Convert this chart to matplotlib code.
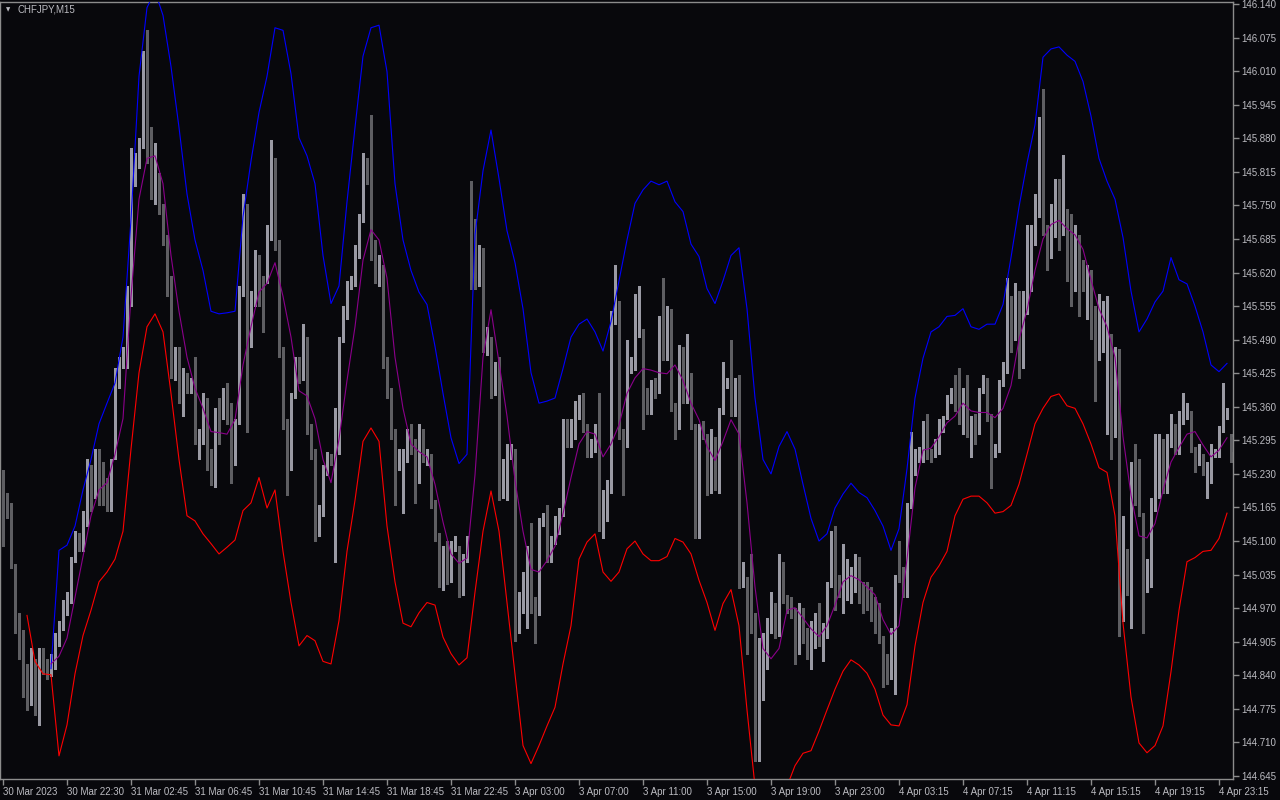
import numpy as np
import matplotlib.pyplot as plt

# CHFJPY M15 candles, 30 Mar 2023 18:30 .. 4 Apr 2023
opens = [
    145.204, 145.181, 145.154, 145.050, 144.954, 144.922, 144.833, 144.833, 144.835, 144.778,
    144.882, 144.852, 144.847, 144.862, 144.902, 144.932, 144.961, 144.986, 145.065, 145.095,
    145.090, 145.134, 145.233, 145.189, 145.246, 145.243, 145.208, 145.164, 145.268, 145.406,
    145.444, 145.446, 145.564, 145.792, 145.832, 145.866, 146.005, 145.841, 145.782, 145.787,
    145.738, 145.678, 145.584, 145.421, 145.466, 145.377, 145.406, 145.401, 145.396, 145.293,
    145.302, 145.367, 145.263, 145.228, 145.352, 145.347, 145.357, 145.352, 145.253, 145.332,
    145.584, 145.743, 145.485, 145.560, 145.639, 145.604, 145.604, 145.693, 145.767, 145.673,
    145.466, 145.322, 145.243, 145.381, 145.441, 145.416, 145.490, 145.317, 145.263, 145.114,
    145.154, 145.233, 145.263, 145.253, 145.273, 145.490, 145.535, 145.594, 145.599, 145.653,
    145.723, 145.822, 145.797, 145.668, 145.604, 145.629, 145.441, 145.386, 145.307, 145.255,
    145.258, 145.258, 145.309, 145.288, 145.218, 145.307, 145.260, 145.258, 145.169, 145.105,
    145.011, 145.080, 145.026, 145.085, 145.075, 145.001, 145.065, 145.774, 145.703, 145.649,
    145.658, 145.466, 145.466, 145.386, 145.431, 145.223, 145.233, 145.263, 145.268, 144.956,
    144.971, 145.030, 145.075, 144.971, 144.961, 145.137, 145.139, 145.065, 145.100, 145.119,
    145.154, 145.302, 145.288, 145.302, 145.342, 145.357, 145.322, 145.268, 145.278, 145.317,
    145.154, 145.179, 145.199, 145.525, 145.560, 145.307, 145.288, 145.431, 145.436, 145.505,
    145.505, 145.386, 145.352, 145.394, 145.391, 145.525, 145.456, 145.505, 145.357, 145.322,
    145.475, 145.372, 145.391, 145.322, 145.144, 145.319, 145.302, 145.199, 145.293, 145.199,
    145.352, 145.406, 145.411, 145.347, 145.416, 145.021, 145.025, 144.961, 144.956, 144.679,
    144.798, 144.857, 144.932, 144.971, 144.922, 145.055, 144.986, 144.983, 144.961, 144.887,
    144.966, 144.907, 144.902, 144.936, 144.946, 144.912, 144.917, 145.016, 145.110, 145.025,
    144.996, 145.011, 144.986, 145.021, 145.050, 145.011, 144.996, 145.001, 144.964, 144.976,
    144.907, 144.862, 144.862, 144.922, 145.030, 145.030, 144.996, 145.169, 145.233, 145.258,
    145.258, 145.317, 145.268, 145.268, 145.273, 145.317, 145.342, 145.372, 145.382, 145.362,
    145.357, 145.386, 145.312, 145.327, 145.312, 145.391, 145.411, 145.337, 145.273, 145.278,
    145.406, 145.431, 145.555, 145.495, 145.555, 145.515, 145.545, 145.668, 145.678, 145.733,
    145.837, 145.698, 145.653, 145.693, 145.772, 145.703, 145.703, 145.718, 145.589, 145.688,
    145.629, 145.589, 145.614, 145.495, 145.456, 145.471, 145.495, 145.495, 145.307, 145.456,
    144.951, 145.080, 145.001, 145.243, 145.174, 145.149, 145.021, 145.045, 145.164, 145.248,
    145.288, 145.198, 145.288, 145.322, 145.273, 145.332, 145.345, 145.342, 145.278, 145.253,
    145.258, 145.233, 145.238, 145.271, 145.268, 145.317, 145.342, 145.302,
]
highs = [
    145.238, 145.194, 145.174, 145.055, 144.961, 144.927, 144.862, 144.892, 144.872, 144.892,
    144.892, 144.872, 144.882, 144.922, 144.946, 144.986, 145.001, 145.070, 145.119, 145.115,
    145.159, 145.258, 145.248, 145.278, 145.278, 145.253, 145.223, 145.258, 145.436, 145.456,
    145.475, 145.594, 145.861, 145.851, 145.881, 146.049, 146.089, 145.901, 145.871, 145.812,
    145.752, 145.693, 145.614, 145.475, 145.475, 145.436, 145.426, 145.416, 145.456, 145.317,
    145.386, 145.377, 145.278, 145.357, 145.377, 145.396, 145.406, 145.367, 145.337, 145.594,
    145.772, 145.752, 145.584, 145.663, 145.653, 145.614, 145.713, 145.876, 145.841, 145.683,
    145.475, 145.337, 145.386, 145.456, 145.456, 145.520, 145.495, 145.327, 145.278, 145.169,
    145.248, 145.273, 145.268, 145.357, 145.495, 145.555, 145.604, 145.614, 145.673, 145.733,
    145.851, 145.841, 145.925, 145.683, 145.653, 145.634, 145.456, 145.396, 145.317, 145.278,
    145.278, 145.317, 145.327, 145.298, 145.327, 145.317, 145.278, 145.268, 145.179, 145.115,
    145.090, 145.100, 145.100, 145.110, 145.090, 145.075, 145.110, 145.797, 145.723, 145.673,
    145.668, 145.515, 145.495, 145.446, 145.456, 145.258, 145.288, 145.288, 145.278, 145.001,
    145.040, 145.090, 145.134, 144.991, 145.144, 145.154, 145.169, 145.110, 145.149, 145.164,
    145.337, 145.337, 145.337, 145.372, 145.382, 145.386, 145.327, 145.298, 145.327, 145.386,
    145.199, 145.218, 145.545, 145.634, 145.565, 145.317, 145.490, 145.456, 145.579, 145.594,
    145.510, 145.396, 145.411, 145.416, 145.535, 145.609, 145.555, 145.550, 145.367, 145.480,
    145.475, 145.500, 145.426, 145.327, 145.327, 145.332, 145.307, 145.317, 145.302, 145.357,
    145.446, 145.416, 145.490, 145.416, 145.421, 145.060, 145.030, 145.075, 144.961, 144.912,
    144.922, 144.951, 145.001, 144.981, 145.075, 145.060, 144.996, 144.991, 144.971, 144.981,
    144.971, 144.932, 144.946, 144.961, 144.981, 144.941, 145.021, 145.119, 145.129, 145.035,
    145.095, 145.065, 145.050, 145.075, 145.070, 145.021, 145.021, 145.011, 144.991, 144.981,
    144.917, 144.882, 144.932, 145.035, 145.100, 145.050, 145.174, 145.312, 145.278, 145.283,
    145.332, 145.347, 145.278, 145.298, 145.337, 145.342, 145.382, 145.396, 145.421, 145.436,
    145.396, 145.421, 145.342, 145.347, 145.396, 145.421, 145.416, 145.347, 145.288, 145.411,
    145.446, 145.609, 145.574, 145.599, 145.584, 145.584, 145.713, 145.713, 145.772, 145.921,
    145.975, 145.713, 145.752, 145.802, 145.802, 145.847, 145.743, 145.733, 145.713, 145.693,
    145.644, 145.634, 145.624, 145.555, 145.579, 145.565, 145.574, 145.500, 145.475, 145.471,
    145.149, 145.085, 145.253, 145.288, 145.258, 145.154, 145.065, 145.184, 145.307, 145.307,
    145.298, 145.307, 145.347, 145.327, 145.352, 145.386, 145.367, 145.352, 145.283, 145.288,
    145.268, 145.253, 145.288, 145.278, 145.322, 145.406, 145.357, 145.307,
]
lows = [
    145.090, 145.144, 145.048, 144.922, 144.872, 144.798, 144.773, 144.783, 144.763, 144.744,
    144.843, 144.833, 144.838, 144.852, 144.897, 144.927, 144.956, 144.981, 145.060, 145.080,
    145.080, 145.129, 145.159, 145.184, 145.169, 145.169, 145.159, 145.159, 145.258, 145.396,
    145.436, 145.436, 145.555, 145.787, 145.822, 145.861, 145.832, 145.762, 145.752, 145.733,
    145.673, 145.574, 145.416, 145.411, 145.367, 145.342, 145.386, 145.386, 145.288, 145.258,
    145.288, 145.238, 145.208, 145.204, 145.288, 145.337, 145.327, 145.213, 145.248, 145.327,
    145.574, 145.312, 145.475, 145.555, 145.555, 145.505, 145.599, 145.683, 145.663, 145.456,
    145.317, 145.189, 145.238, 145.377, 145.406, 145.411, 145.307, 145.258, 145.100, 145.110,
    145.149, 145.228, 145.248, 145.060, 145.268, 145.485, 145.530, 145.589, 145.594, 145.649,
    145.718, 145.792, 145.644, 145.599, 145.594, 145.436, 145.377, 145.297, 145.169, 145.238,
    145.154, 145.253, 145.268, 145.174, 145.213, 145.253, 145.248, 145.164, 145.100, 145.011,
    145.006, 145.016, 145.021, 145.080, 144.991, 144.996, 145.060, 145.589, 145.589, 145.594,
    145.466, 145.461, 145.377, 145.382, 145.179, 145.184, 145.179, 145.258, 144.907, 144.922,
    144.961, 144.932, 144.961, 144.902, 144.956, 145.129, 145.060, 145.060, 145.095, 145.114,
    145.149, 145.283, 145.283, 145.297, 145.337, 145.312, 145.263, 145.263, 145.273, 145.119,
    145.105, 145.139, 145.194, 145.520, 145.297, 145.189, 145.283, 145.426, 145.431, 145.495,
    145.317, 145.347, 145.347, 145.377, 145.386, 145.451, 145.451, 145.352, 145.297, 145.317,
    145.367, 145.367, 145.317, 145.105, 145.105, 145.297, 145.189, 145.194, 145.198, 145.194,
    145.347, 145.396, 145.342, 145.342, 145.010, 145.011, 144.882, 144.922, 144.674, 144.674,
    144.793, 144.852, 144.922, 144.912, 144.917, 144.981, 144.961, 144.951, 144.862, 144.882,
    144.902, 144.872, 144.852, 144.892, 144.897, 144.867, 144.912, 145.011, 144.966, 144.991,
    144.961, 144.986, 144.981, 145.001, 144.981, 144.961, 144.966, 144.946, 144.922, 144.902,
    144.818, 144.823, 144.833, 144.803, 145.020, 144.991, 144.991, 145.164, 145.228, 145.253,
    145.253, 145.258, 145.253, 145.263, 145.268, 145.312, 145.337, 145.367, 145.352, 145.327,
    145.307, 145.302, 145.263, 145.288, 145.307, 145.386, 145.332, 145.203, 145.263, 145.273,
    145.401, 145.426, 145.466, 145.490, 145.416, 145.436, 145.540, 145.584, 145.673, 145.728,
    145.693, 145.624, 145.649, 145.688, 145.663, 145.693, 145.604, 145.555, 145.584, 145.535,
    145.584, 145.530, 145.491, 145.372, 145.451, 145.466, 145.307, 145.258, 145.302, 144.917,
    144.946, 144.996, 144.932, 145.169, 145.149, 144.922, 145.001, 145.011, 145.159, 145.184,
    145.194, 145.194, 145.283, 145.268, 145.268, 145.327, 145.337, 145.273, 145.233, 145.248,
    145.228, 145.184, 145.213, 145.263, 145.263, 145.312, 145.337, 145.253,
]
closes = [
    145.179, 145.149, 145.052, 144.956, 144.922, 144.833, 144.831, 144.835, 144.778, 144.882,
    144.852, 144.843, 144.867, 144.912, 144.932, 144.966, 144.986, 145.060, 145.095, 145.090,
    145.134, 145.233, 145.184, 145.243, 145.238, 145.179, 145.164, 145.238, 145.406, 145.446,
    145.446, 145.569, 145.792, 145.817, 145.861, 146.000, 145.841, 145.782, 145.786, 145.743,
    145.678, 145.589, 145.421, 145.466, 145.377, 145.411, 145.404, 145.401, 145.293, 145.299,
    145.362, 145.268, 145.228, 145.347, 145.297, 145.362, 145.342, 145.258, 145.307, 145.579,
    145.743, 145.485, 145.564, 145.639, 145.564, 145.510, 145.693, 145.767, 145.673, 145.466,
    145.322, 145.243, 145.377, 145.441, 145.416, 145.490, 145.317, 145.268, 145.114, 145.154,
    145.233, 145.263, 145.253, 145.273, 145.485, 145.535, 145.589, 145.599, 145.653, 145.723,
    145.822, 145.797, 145.649, 145.604, 145.629, 145.441, 145.386, 145.307, 145.253, 145.256,
    145.260, 145.309, 145.273, 145.218, 145.307, 145.258, 145.263, 145.169, 145.110, 145.021,
    145.080, 145.026, 145.085, 145.098, 145.001, 145.065, 145.100, 145.701, 145.619, 145.653,
    145.500, 145.490, 145.382, 145.431, 145.218, 145.228, 145.263, 145.278, 144.956, 144.976,
    145.030, 145.075, 144.971, 144.966, 145.139, 145.137, 145.065, 145.100, 145.119, 145.154,
    145.307, 145.288, 145.302, 145.342, 145.357, 145.317, 145.268, 145.280, 145.317, 145.154,
    145.184, 145.208, 145.530, 145.560, 145.302, 145.288, 145.436, 145.441, 145.520, 145.520,
    145.386, 145.352, 145.396, 145.391, 145.530, 145.456, 145.505, 145.357, 145.322, 145.475,
    145.372, 145.396, 145.322, 145.144, 145.322, 145.302, 145.194, 145.293, 145.208, 145.347,
    145.406, 145.409, 145.347, 145.411, 145.021, 145.035, 144.956, 144.953, 144.679, 144.798,
    144.862, 144.932, 144.976, 144.922, 145.055, 144.986, 144.983, 144.956, 144.887, 144.966,
    144.907, 144.904, 144.937, 144.946, 144.912, 144.917, 145.016, 145.110, 145.025, 144.996,
    145.060, 145.045, 145.016, 145.024, 145.011, 144.981, 144.994, 144.951, 144.958, 144.907,
    144.857, 144.855, 144.922, 145.030, 145.029, 144.996, 145.169, 145.233, 145.258, 145.260,
    145.317, 145.263, 145.261, 145.276, 145.312, 145.337, 145.372, 145.382, 145.357, 145.359,
    145.386, 145.312, 145.327, 145.312, 145.391, 145.411, 145.337, 145.273, 145.281, 145.406,
    145.431, 145.555, 145.495, 145.555, 145.515, 145.545, 145.668, 145.678, 145.733, 145.837,
    145.698, 145.653, 145.713, 145.772, 145.698, 145.728, 145.688, 145.589, 145.688, 145.629,
    145.589, 145.614, 145.495, 145.456, 145.468, 145.550, 145.550, 145.307, 145.456, 144.951,
    145.085, 145.001, 145.243, 145.174, 145.154, 145.021, 145.045, 145.169, 145.248, 145.288,
    145.198, 145.288, 145.322, 145.273, 145.337, 145.347, 145.347, 145.278, 145.253, 145.278,
    145.233, 145.243, 145.273, 145.272, 145.317, 145.352, 145.350, 145.273,
]

# indicator lines, one value every 2 bars (None = not drawn yet)
upper_band = [
    None, None, None, None, None, None, 144.853, 145.082, 145.092, 145.129,
    145.199, 145.258, 145.327, 145.367, 145.406, 145.495, 145.723, 146.000, 146.133, 146.165,
    146.118, 146.019, 145.901, 145.772, 145.683, 145.624, 145.545, 145.540, 145.542, 145.545,
    145.728, 145.836, 145.930, 146.000, 146.094, 146.089, 146.005, 145.881, 145.846, 145.792,
    145.653, 145.560, 145.594, 145.757, 145.901, 146.039, 146.094, 146.099, 146.009, 145.792,
    145.683, 145.624, 145.582, 145.558, 145.477, 145.386, 145.300, 145.250, 145.268, 145.693,
    145.817, 145.896, 145.802, 145.701, 145.639, 145.550, 145.426, 145.367, 145.371, 145.377,
    145.434, 145.495, 145.520, 145.530, 145.505, 145.468, 145.525, 145.604, 145.683, 145.754,
    145.780, 145.797, 145.790, 145.797, 145.757, 145.738, 145.675, 145.651, 145.589, 145.560,
    145.604, 145.653, 145.668, 145.550, 145.377, 145.258, 145.230, 145.283, 145.312, 145.278,
    145.210, 145.144, 145.100, 145.114, 145.164, 145.191, 145.212, 145.194, 145.184, 145.159,
    145.129, 145.082, 145.124, 145.240, 145.377, 145.454, 145.505, 145.515, 145.535, 145.537,
    145.550, 145.515, 145.510, 145.520, 145.520, 145.558, 145.649, 145.747, 145.832, 145.906,
    146.037, 146.053, 146.057, 146.041, 146.029, 145.990, 145.923, 145.841, 145.797, 145.762,
    145.688, 145.584, 145.505, 145.530, 145.563, 145.584, 145.649, 145.606, 145.598, 145.555,
    145.505, 145.441, 145.428, 145.444,
]
lower_band = [
    None, None, None, 144.956, 144.867, 144.843, 144.841, 144.684, 144.744, 144.843,
    144.917, 144.966, 145.021, 145.040, 145.065, 145.119, 145.278, 145.426, 145.515, 145.540,
    145.505, 145.386, 145.258, 145.149, 145.139, 145.114, 145.095, 145.075, 145.088, 145.102,
    145.159, 145.174, 145.223, 145.164, 145.199, 145.080, 144.981, 144.897, 144.917, 144.907,
    144.867, 144.862, 144.946, 145.080, 145.179, 145.293, 145.319, 145.293, 145.129, 145.021,
    144.941, 144.934, 144.961, 144.981, 144.976, 144.914, 144.882, 144.860, 144.874, 145.001,
    145.119, 145.197, 145.119, 144.981, 144.843, 144.704, 144.669, 144.704, 144.742, 144.778,
    144.862, 144.936, 145.065, 145.098, 145.114, 145.040, 145.022, 145.040, 145.085, 145.100,
    145.075, 145.062, 145.062, 145.070, 145.105, 145.098, 145.075, 145.024, 144.981, 144.927,
    144.979, 145.006, 144.936, 144.773, 144.625, 144.585, 144.566, 144.585, 144.625, 144.665,
    144.689, 144.694, 144.732, 144.773, 144.813, 144.848, 144.870, 144.860, 144.844, 144.813,
    144.763, 144.744, 144.742, 144.783, 144.897, 144.981, 145.030, 145.052, 145.080, 145.149,
    145.181, 145.187, 145.187, 145.174, 145.154, 145.157, 145.169, 145.210, 145.268, 145.327,
    145.357, 145.380, 145.385, 145.362, 145.357, 145.327, 145.288, 145.242, 145.233, 145.149,
    144.941, 144.798, 144.709, 144.690, 144.704, 144.742, 144.847, 144.966, 145.060, 145.068,
    145.080, 145.082, 145.105, 145.154,
]
middle_line = [
    None, None, None, None, None, None, 144.862, 144.877, 144.912, 144.991,
    145.070, 145.149, 145.199, 145.213, 145.268, 145.337, 145.574, 145.762, 145.841, 145.846,
    145.792, 145.653, 145.545, 145.456, 145.396, 145.357, 145.312, 145.310, 145.307, 145.335,
    145.441, 145.515, 145.582, 145.599, 145.639, 145.574, 145.495, 145.391, 145.381, 145.337,
    145.258, 145.213, 145.297, 145.411, 145.515, 145.644, 145.703, 145.683, 145.609, 145.456,
    145.357, 145.288, 145.273, 145.263, 145.210, 145.137, 145.075, 145.057, 145.067, 145.228,
    145.456, 145.548, 145.446, 145.342, 145.218, 145.119, 145.045, 145.040, 145.062, 145.090,
    145.153, 145.223, 145.288, 145.312, 145.307, 145.263, 145.288, 145.325, 145.386, 145.416,
    145.434, 145.431, 145.426, 145.424, 145.441, 145.411, 145.367, 145.335, 145.283, 145.256,
    145.293, 145.335, 145.307, 145.174, 145.011, 144.892, 144.872, 144.892, 144.966, 144.971,
    144.951, 144.930, 144.915, 144.936, 144.976, 145.021, 145.033, 145.025, 145.011, 144.996,
    144.948, 144.919, 144.936, 145.065, 145.203, 145.276, 145.280, 145.302, 145.329, 145.342,
    145.367, 145.352, 145.349, 145.349, 145.339, 145.357, 145.401, 145.490, 145.547, 145.624,
    145.685, 145.713, 145.721, 145.705, 145.693, 145.665, 145.606, 145.550, 145.515, 145.456,
    145.302, 145.189, 145.110, 145.106, 145.134, 145.198, 145.253, 145.281, 145.307, 145.312,
    145.286, 145.263, 145.276, 145.300,
]

time_labels = [
    "30 Mar 2023", "30 Mar 22:30", "31 Mar 02:45", "31 Mar 06:45", "31 Mar 10:45",
    "31 Mar 14:45", "31 Mar 18:45", "31 Mar 22:45", "3 Apr 03:00", "3 Apr 07:00",
    "3 Apr 11:00", "3 Apr 15:00", "3 Apr 19:00", "3 Apr 23:00", "4 Apr 03:15",
    "4 Apr 07:15", "4 Apr 11:15", "4 Apr 15:15", "4 Apr 19:15", "4 Apr 23:15",
]
price_ticks = [146.140 - 0.065 * k for k in range(24)]

bg = '#08080c'
grid_col = '#8c8c8c'
text_col = '#bcbcc2'

plt.rcParams['font.family'] = ['Liberation Sans', 'DejaVu Sans']

fig = plt.figure(figsize=(12.8, 8), dpi=100, facecolor=bg)
ax = fig.add_axes([0, 21 / 800, 1233 / 1280, 777 / 800])
ax.set_facecolor(bg)

o = np.array(opens)
h = np.array(highs)
l = np.array(lows)
c = np.array(closes)
x = np.arange(len(c))

bull = c >= o
cols = np.where(bull, '#9a9aa4', '#5e5e62')
body_lo = np.minimum(o, c)
body_h = np.maximum(np.abs(c - o), 0.0018)

ax.vlines(x, l, h, colors=cols, lw=0.75, zorder=2, antialiased=False)
ax.bar(x, body_h, bottom=body_lo, width=0.75, color=cols, linewidth=0,
       zorder=3, antialiased=False)

xl = np.arange(0, len(c), 2)
ax.plot(xl, np.array(upper_band, dtype=float), color='#0000ff', lw=0.8, zorder=4)
ax.plot(xl, np.array(lower_band, dtype=float), color='#ff0000', lw=0.8, zorder=4)
ax.plot(xl, np.array(middle_line, dtype=float), color='#8b008b', lw=0.8, zorder=5)

ax.set_xlim(-0.75, 307.5)
ax.set_ylim(144.6392, 146.1439)

ax.yaxis.tick_right()
ax.set_yticks(price_ticks)
ax.set_yticklabels([f"{v:.3f}" for v in price_ticks])
ax.set_xticks(np.arange(0, len(c), 16))
ax.set_xticklabels(time_labels)
for lab in ax.get_xticklabels():
    lab.set_ha('left')

ax.tick_params(axis='both', direction='out', length=4, width=1, color=grid_col,
               labelcolor=text_col, labelsize=7)
ax.tick_params(axis='y', pad=2)
ax.tick_params(axis='x', pad=2)

for s in ax.spines.values():
    s.set_color(grid_col)
    s.set_linewidth(1)

fig.text(6 / 1280, 1 - 10 / 800, '\u25bc', color=text_col, fontsize=4,
         va='center', ha='left', family='DejaVu Sans')
fig.text(18 / 1280, 1 - 10 / 800, 'CHFJPY,M15', color=text_col, fontsize=7,
         va='center', ha='left')

fig.savefig('out.png', dpi=100, facecolor=bg)
